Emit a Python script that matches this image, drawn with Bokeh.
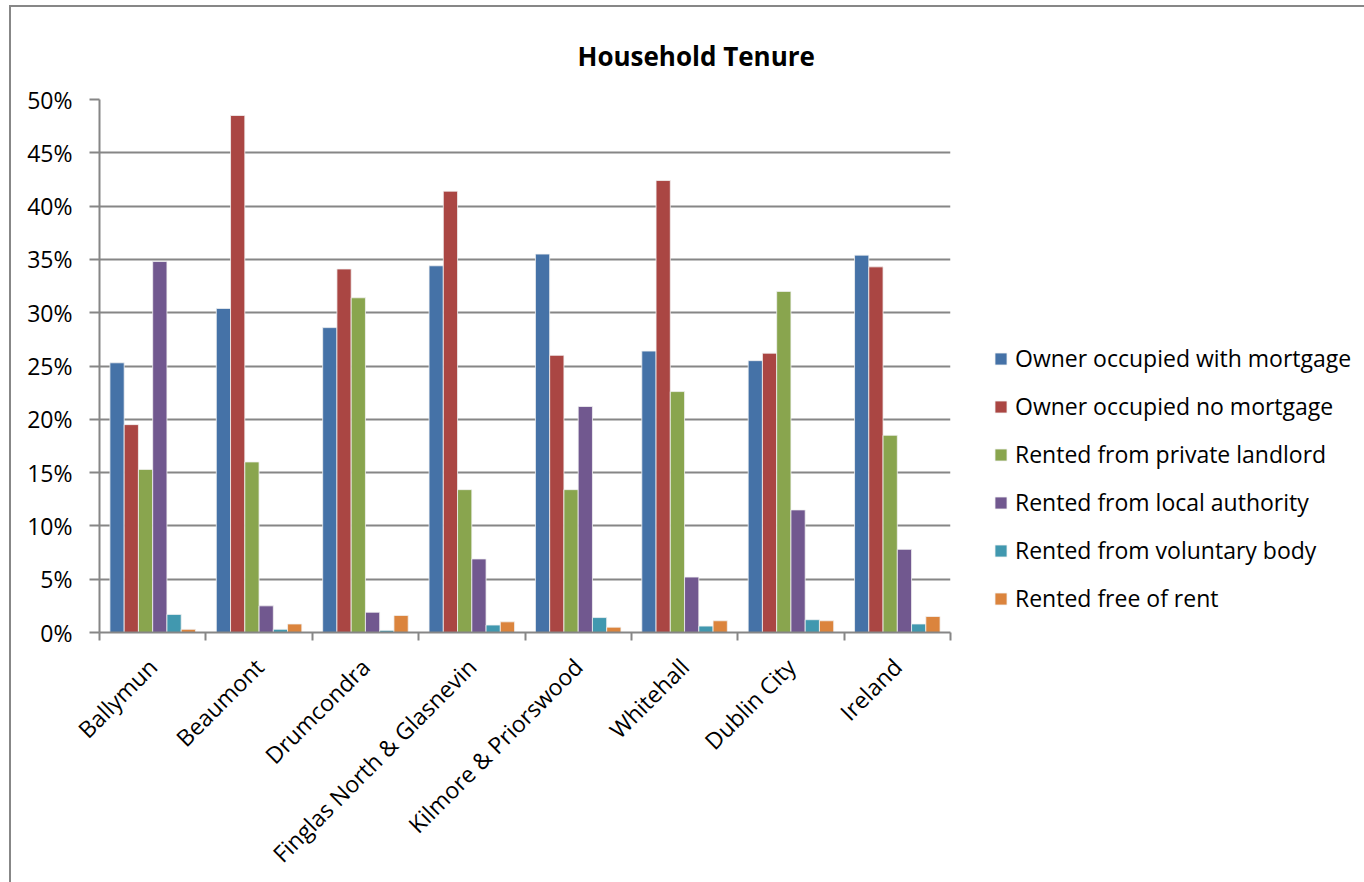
import numpy as np
from bokeh.plotting import figure
from bokeh.models import (Range1d, FixedTicker, PrintfTickFormatter, Legend, LegendItem,
                          ColumnDataSource)
from bokeh.embed import file_html
from bokeh.resources import INLINE
import math

categories = ["Ballymun", "Beaumont", "Drumcondra", "Finglas North & Glasnevin",
              "Kilmore & Priorswood", "Whitehall", "Dublin City", "Ireland"]
series_names = ["Owner occupied with mortgage", "Owner occupied no mortgage",
                "Rented from private landlord", "Rented from local authority",
                "Rented from voluntary body", "Rented free of rent"]
owner_mortgage = [25.3, 30.4, 28.6, 34.4, 35.5, 26.4, 25.5, 35.4]
owner_no_mortgage = [19.5, 48.5, 34.1, 41.4, 26.0, 42.4, 26.2, 34.3]
private_landlord = [15.3, 16.0, 31.4, 13.4, 13.4, 22.6, 32.0, 18.5]
local_authority = [34.8, 2.5, 1.9, 6.9, 21.2, 5.2, 11.5, 7.8]
voluntary_body = [1.7, 0.3, 0.2, 0.7, 1.4, 0.6, 1.2, 0.8]
free_of_rent = [0.3, 0.8, 1.6, 1.0, 0.5, 1.1, 1.1, 1.5]
y_ticks = [0, 5, 10, 15, 20, 25, 30, 35, 40, 45, 50]

series = [owner_mortgage, owner_no_mortgage, private_landlord,
          local_authority, voluntary_body, free_of_rent]
colors = ["#4572A7", "#AA4643", "#89A54E", "#71588F", "#4198AF", "#DB843D"]

FONT = "Open Sans"

p = figure(frame_width=851, frame_height=533, output_backend="svg", toolbar_location=None,
           x_range=Range1d(0, len(categories)), y_range=Range1d(0, 50),
           min_border_left=88, min_border_top=92, min_border_right=0,
           min_border_bottom=243, title="Household Tenure")
p.styles = {"border-top": "2px solid #878787", "border-left": "2px solid #878787",
            "margin-left": "9px", "margin-top": "5px"}
p.outline_line_color = None
p.background_fill_color = "white"
p.border_fill_color = "white"

p.title.text_font = FONT
p.title.text_font_style = "bold"
p.title.text_font_size = "26px"
p.title.align = "left"
p.title.offset = 478
p.title.standoff = 52
p.title.text_color = "black"

bar_w = 0.134
centers = np.arange(len(categories)) + 0.5
items = []
for j, (vals, col, name) in enumerate(zip(series, colors, series_names)):
    xs = centers + (j - 2.5) * bar_w
    src = ColumnDataSource(dict(x=xs, top=vals))
    r = p.vbar(x="x", top="top", width=bar_w, bottom=0, source=src,
               fill_color=col, line_color="#f2f2f2", line_width=0.8)
    items.append(LegendItem(label=name, renderers=[r]))

# y axis
p.yaxis.ticker = FixedTicker(ticks=y_ticks)
p.yaxis.formatter = PrintfTickFormatter(format="%d%%")
p.yaxis.major_label_text_font = FONT
p.yaxis.major_label_text_font_size = "23px"
p.yaxis.major_label_text_color = "black"
p.yaxis.axis_line_color = "#868686"
p.yaxis.axis_line_width = 2
p.yaxis.major_tick_line_color = "#868686"
p.yaxis.major_tick_line_width = 2
p.yaxis.major_tick_out = 10
p.yaxis.major_tick_in = 0
p.yaxis.minor_tick_line_color = None
p.yaxis.major_label_standoff = 17

# x axis: labels at centres, ticks at boundaries
p.xaxis.ticker = FixedTicker(ticks=list(centers),
                             minor_ticks=list(range(len(categories) + 1)))
p.xaxis.major_label_overrides = {float(c): name for c, name in zip(centers, categories)}
p.xaxis.major_label_orientation = math.pi / 4
p.xaxis.major_label_text_font = FONT
p.xaxis.major_label_text_font_size = "23px"
p.xaxis.major_label_text_color = "black"
p.xaxis.major_tick_line_color = None
p.xaxis.major_tick_out = 0
p.xaxis.major_tick_in = 0
p.xaxis.minor_tick_line_color = "#868686"
p.xaxis.minor_tick_line_width = 2
p.xaxis.minor_tick_out = 8
p.xaxis.minor_tick_in = 0
p.xaxis.axis_line_color = "#868686"
p.xaxis.axis_line_width = 2
p.xaxis.major_label_standoff = 22

p.xgrid.grid_line_color = None
p.ygrid.ticker = FixedTicker(ticks=y_ticks)
p.ygrid.grid_line_color = "#868686"
p.ygrid.grid_line_width = 2

legend = Legend(items=items, location=(43, 18), orientation="vertical")
legend.border_line_color = None
legend.background_fill_color = None
legend.label_text_font = FONT
legend.label_text_font_size = "23px"
legend.label_text_color = "black"
legend.glyph_width = 15
legend.glyph_height = 15
legend.label_standoff = 7
legend.spacing = 16
legend.padding = 0
legend.margin = 0
p.add_layout(legend, "right")

open("out.html", "w").write(file_html(p, INLINE))
